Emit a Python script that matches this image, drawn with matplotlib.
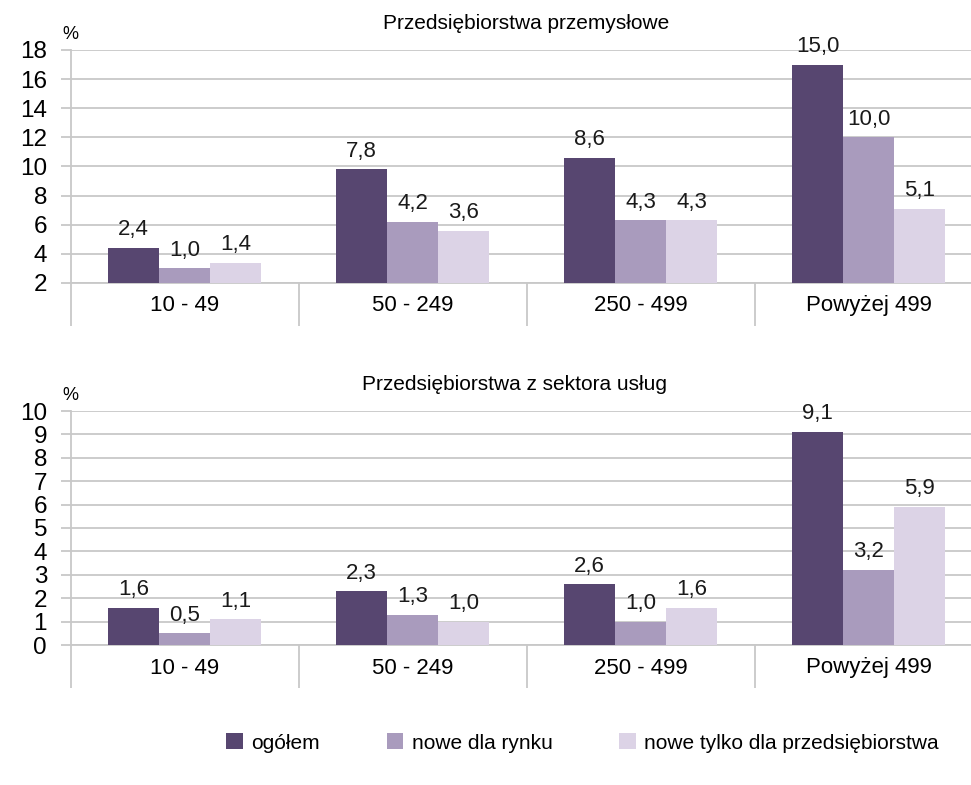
import matplotlib
matplotlib.use("Agg")
import matplotlib.pyplot as plt
from matplotlib.patches import Patch
from matplotlib.ticker import FuncFormatter
import numpy as np

plt.rcParams['font.family'] = ['Liberation Sans', 'DejaVu Sans']

categories = ['10 - 49', '50 - 249', '250 - 499', 'Powyżej 499']
series_names = ['ogółem', 'nowe dla rynku', 'nowe tylko dla przedsiębiorstwa']
colors = ['#574670', '#A99BBD', '#DCD3E6']

# przedsiebiorstwa przemyslowe
ind_ogolem = [2.4, 7.8, 8.6, 15.0]
ind_rynek = [1.0, 4.2, 4.3, 10.0]
ind_przeds = [1.4, 3.6, 4.3, 5.1]

# przedsiebiorstwa z sektora uslug
srv_ogolem = [1.6, 2.3, 2.6, 9.1]
srv_rynek = [0.5, 1.3, 1.0, 3.2]
srv_przeds = [1.1, 1.0, 1.6, 5.9]

top_title = 'Przedsiębiorstwa przemysłowe'
bottom_title = 'Przedsiębiorstwa z sektora usług'

W, H = 971, 785
fig = plt.figure(figsize=(W / 100, H / 100), dpi=100)

grid_col = '#C8C8C8'


def panel(rect, series, ymax, step, fmt, title, tx):
    ax = fig.add_axes(rect)
    x = np.arange(len(categories))
    bw = 0.224
    for i, vals in enumerate(series):
        pos = x + (i - 1) * bw
        ax.bar(pos, vals, width=bw, color=colors[i], zorder=3)
        for p, v in zip(pos, vals):
            ax.annotate(('%.1f' % v).replace('.', ','), (p, v), xytext=(0, 5.5),
                        textcoords='offset points', ha='center', va='bottom',
                        fontsize=16, color='#1a1a1a')
    ax.set_xlim(-0.5, len(categories) - 0.5)
    ax.set_ylim(0, ymax)
    ax.set_yticks(np.arange(0, ymax + 0.01, step))
    ax.yaxis.set_major_formatter(FuncFormatter(fmt))
    ax.grid(axis='y', color=grid_col, linewidth=1.3, zorder=0)
    ax.set_xticks(np.arange(-0.5, len(categories), 1.0))
    ax.set_xticklabels([])
    ax.set_xticks(x, minor=True)
    ax.set_xticklabels(categories, minor=True, fontsize=16)
    ax.tick_params(axis='x', which='major', length=31, color=grid_col, width=1.3)
    ax.tick_params(axis='x', which='minor', length=0, pad=9)
    ax.tick_params(axis='y', length=7, color=grid_col, width=1.3, labelsize=17.5, pad=10)
    for s in ['top', 'right']:
        ax.spines[s].set_visible(False)
    for s in ['left', 'bottom']:
        ax.spines[s].set_color(grid_col)
        ax.spines[s].set_linewidth(1.3)
    ax.annotate('%', (0.0, 1.0), xycoords='axes fraction', xytext=(0, 5),
                textcoords='offset points', fontsize=13, ha='center', va='bottom')
    ax.set_title(title, fontsize=15, pad=15, x=tx)
    return ax


panel([70.7 / W, 1 - 283 / H, 912 / W, 233 / H],
      [ind_ogolem, ind_rynek, ind_przeds], 16, 2,
      lambda v, p: '%d' % (v + 2), top_title, 0.499)
panel([70.7 / W, 1 - 645 / H, 912 / W, 234 / H],
      [srv_ogolem, srv_rynek, srv_przeds], 10, 1,
      lambda v, p: '%d' % v, bottom_title, 0.487)

handles = [Patch(facecolor=c, label=n) for c, n in zip(colors, series_names)]
fig.legend(handles=handles, loc='center', bbox_to_anchor=(0.600, 1 - 743 / H),
           ncol=3, frameon=False, handlelength=0.8, handleheight=0.8,
           handletextpad=0.4, columnspacing=3.2, fontsize=15)

fig.savefig('out.png', dpi=100)
